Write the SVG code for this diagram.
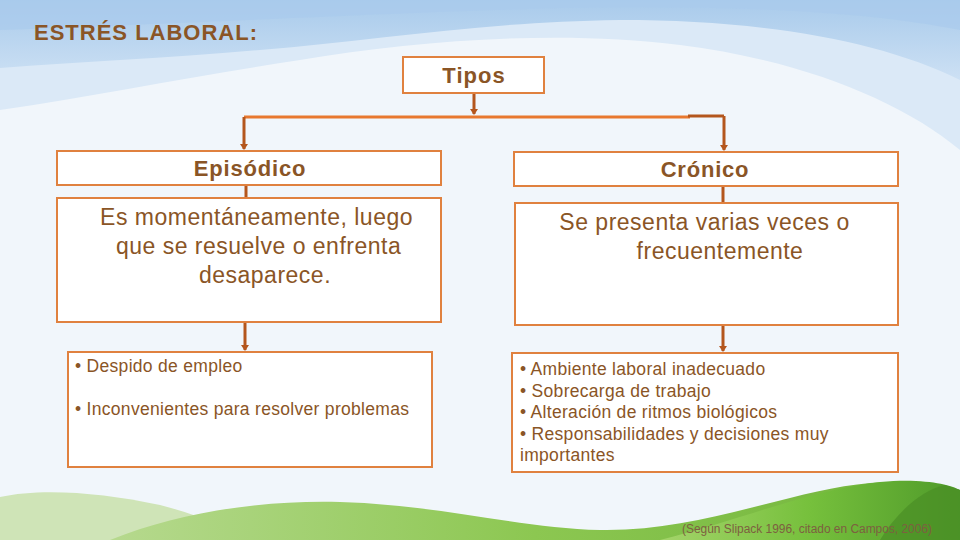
<svg xmlns="http://www.w3.org/2000/svg" width="960" height="540" viewBox="0 0 960 540">
<defs>
<style>
.box{fill:#ffffff;stroke:#e0813f;stroke-width:2}
.t{font-family:"Liberation Sans",Arial,sans-serif;fill:#8a5526}
.b{font-weight:bold}
.desc{font-size:23px;letter-spacing:0.5px}
.bul{font-size:17.5px;letter-spacing:0.3px}
.conn{stroke:#b4561d;stroke-width:3;fill:none}
.hline{stroke:#e8782f;stroke-width:3;fill:none}
</style>
<marker id="ah" viewBox="0 0 6 8" refX="5" refY="4" markerWidth="6" markerHeight="8" markerUnits="userSpaceOnUse" orient="auto">
<path d="M0,0 L6,4 L0,8 Z" fill="#b4561d"/>
</marker>
<linearGradient id="sky" x1="0" y1="0" x2="0" y2="1">
<stop offset="0" stop-color="#9cc3e8"/>
<stop offset="1" stop-color="#c9def3"/>
</linearGradient>
<linearGradient id="g1" x1="0" y1="0" x2="1" y2="0">
<stop offset="0" stop-color="#b6d98e"/>
<stop offset="0.5" stop-color="#8cc751"/>
<stop offset="1" stop-color="#6fb33a"/>
</linearGradient>
<linearGradient id="g2" x1="0" y1="0" x2="1" y2="0">
<stop offset="0" stop-color="#a4d46a"/>
<stop offset="0.5" stop-color="#76c03c"/>
<stop offset="1" stop-color="#4f9a2a"/>
</linearGradient>
</defs>
<!-- background -->
<rect x="0" y="0" width="960" height="540" fill="#f1f6fb"/>
<path d="M0,0 H960 V150 C900,100 800,60 680,45 C560,30 420,40 300,60 C200,75 100,95 0,110 Z" fill="#dbe9f7"/>
<path d="M0,0 H960 V80 C880,40 760,20 620,20 C480,22 380,40 260,50 C170,58 80,62 0,68 Z" fill="url(#sky)" opacity="0.8"/>
<path d="M0,0 H960 V30 C860,10 720,5 560,8 C420,12 260,20 0,30 Z" fill="#a9cbed" opacity="0.7"/>
<path d="M0,497 C40,488 100,492 160,505 C200,515 230,530 250,540 H0 Z" fill="#cfe4b7"/>
<path d="M110,540 C180,512 260,500 340,502 C440,505 520,528 600,530 C700,532 790,490 870,483 C915,480 945,485 960,490 V540 Z" fill="url(#g1)"/>
<path d="M660,540 C740,520 810,490 880,482 C925,478 950,485 960,490 V540 Z" fill="url(#g2)"/>
<path d="M880,540 C895,515 920,490 945,485 L960,490 V540 Z" fill="#4a8f25" opacity="0.7"/>

<text class="t b" x="34" y="40" font-size="22" letter-spacing="1">ESTRÉS LABORAL:</text>

<g id="connectors">
<line class="conn" x1="474" y1="94" x2="474" y2="114" marker-end="url(#ah)"/>
<path class="hline" d="M244,117 H690"/>
<path class="conn" d="M688,116 H724"/>
<line class="conn" x1="244" y1="117" x2="244" y2="149" marker-end="url(#ah)"/>
<line class="conn" x1="724" y1="116" x2="724" y2="150" marker-end="url(#ah)"/>
<line class="conn" x1="246" y1="186" x2="246" y2="198"/>
<line class="conn" x1="245" y1="323" x2="245" y2="350" marker-end="url(#ah)"/>
<line class="conn" x1="723" y1="187" x2="723" y2="202"/>
<line class="conn" x1="723" y1="326" x2="723" y2="351" marker-end="url(#ah)"/>
</g>

<g id="tipos">
<rect class="box" x="403" y="57" width="141" height="36"/>
<text class="t b" x="474" y="83" font-size="22" letter-spacing="1" text-anchor="middle">Tipos</text>
</g>

<g id="episodico">
<rect class="box" x="57" y="151" width="384" height="34"/>
<text class="t b" x="250" y="176" font-size="22" letter-spacing="0.8" text-anchor="middle">Episódico</text>
</g>

<g id="episodico-desc">
<rect class="box" x="57" y="198" width="384" height="124"/>
<text class="t desc" text-anchor="middle">
<tspan x="260" y="225">Es momentáneamente, luego</tspan>
<tspan x="262" y="254">que se resuelve o enfrenta</tspan>
<tspan x="265" y="283">desaparece.</tspan>
</text>
</g>

<g id="episodico-causas">
<rect class="box" x="68" y="352" width="364" height="115"/>
<text class="t bul">
<tspan x="75" y="372">• Despido de empleo</tspan>
<tspan x="75" y="415">• Inconvenientes para resolver problemas</tspan>
</text>
</g>

<g id="cronico">
<rect class="box" x="514" y="152" width="384" height="34"/>
<text class="t b" x="705" y="177" font-size="22" letter-spacing="0.8" text-anchor="middle">Crónico</text>
</g>

<g id="cronico-desc">
<rect class="box" x="515" y="203" width="383" height="122"/>
<text class="t desc" text-anchor="middle">
<tspan x="708" y="230">Se presenta varias veces o</tspan>
<tspan x="720" y="259">frecuentemente</tspan>
</text>
</g>

<g id="cronico-causas">
<rect class="box" x="512" y="353" width="386" height="119"/>
<text class="t bul">
<tspan x="520" y="375">• Ambiente laboral inadecuado</tspan>
<tspan x="520" y="397">• Sobrecarga de trabajo</tspan>
<tspan x="520" y="418">• Alteración de ritmos biológicos</tspan>
<tspan x="520" y="440">• Responsabilidades y decisiones muy</tspan>
<tspan x="520" y="461">importantes</tspan>
</text>
</g>

<text class="t" x="682" y="533" font-size="12" textLength="250" lengthAdjust="spacingAndGlyphs" style="fill:#7d6040">(Según Slipack 1996, citado en Campos, 2006)</text>
</svg>
